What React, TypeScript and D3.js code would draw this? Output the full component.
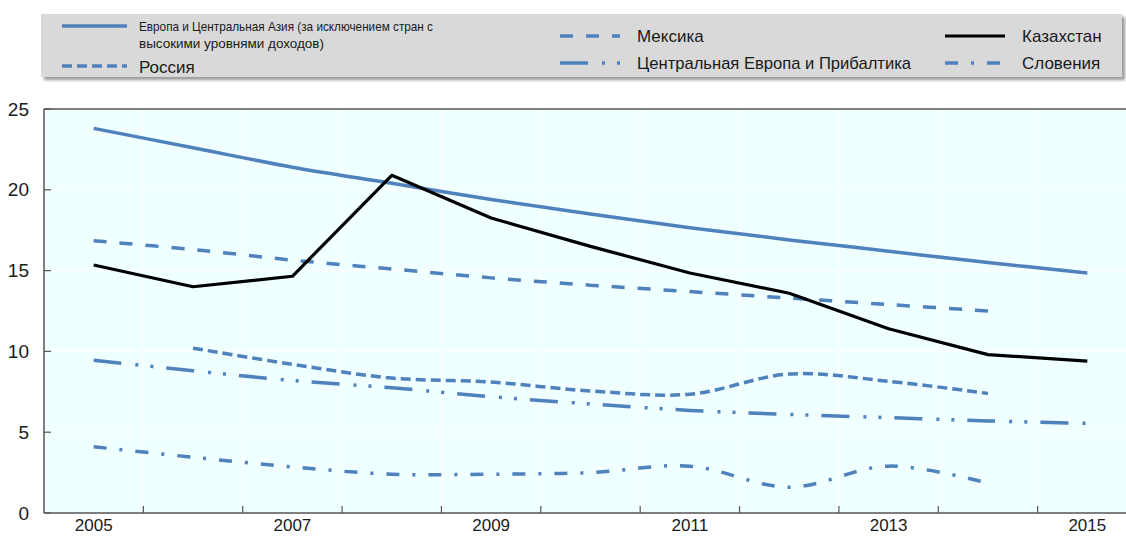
import React from "react";
import * as d3 from "d3";

const years = [2005, 2006, 2007, 2008, 2009, 2010, 2011, 2012, 2013, 2014, 2015];
const labelYears = [2005, 2007, 2009, 2011, 2013, 2015];
const yTicks = [0, 5, 10, 15, 20, 25];

const europeCA = [23.8, 22.6, 21.4, 20.4, 19.4, 18.5, 17.65, 16.9, 16.2, 15.5, 14.85];
const kazakhstan = [15.35, 14.0, 14.65, 20.9, 18.25, 16.5, 14.85, 13.6, 11.4, 9.8, 9.4];
const mexico = [16.85, 16.3, 15.65, 15.1, 14.55, 14.1, 13.7, 13.3, 12.9, 12.5, null];
const russia = [null, 10.2, 9.2, 8.35, 8.1, 7.55, 7.35, 8.6, 8.15, 7.4, null];
const centralEurope = [9.45, 8.8, 8.2, 7.75, 7.2, 6.75, 6.35, 6.1, 5.9, 5.7, 5.55];
const slovenia = [4.1, 3.45, 2.85, 2.4, 2.4, 2.5, 2.9, 1.6, 2.9, 1.85, null];

const BLUE = "#4F81BD";
const FONT = "'Liberation Sans Narrow', 'Arial Narrow', 'Liberation Sans', Arial, sans-serif";

type Series = {
  name: string;
  values: (number | null)[];
  color: string;
  width: number;
  dash: string;
  smooth: boolean;
};

const series: Series[] = [
  { name: "europe", values: europeCA, color: BLUE, width: 3.5, dash: "", smooth: true },
  { name: "mexico", values: mexico, color: BLUE, width: 3.5, dash: "13 13", smooth: true },
  { name: "russia", values: russia, color: BLUE, width: 3.5, dash: "10 5", smooth: true },
  { name: "ce", values: centralEurope, color: BLUE, width: 3.5, dash: "28 14 3 12 3 13", smooth: true },
  { name: "slovenia", values: slovenia, color: BLUE, width: 3.5, dash: "13 13 3 13", smooth: true },
  { name: "kaz", values: kazakhstan, color: "#000", width: 3.2, dash: "", smooth: false },
];

export default function App() {
  const x = d3.scaleBand<number>().domain(years).range([44, 1137]).padding(0);
  const bw = x.bandwidth();
  const cx = (yr: number) => (x(yr) as number) + bw / 2;
  const y = d3.scaleLinear().domain([0, 25]).range([513, 109]);

  const boundaries = years.slice(1).map((yr) => x(yr) as number);

  const pathFor = (s: Series) => {
    const pts = years
      .map((yr, i) => ({ yr, v: s.values[i] }))
      .filter((d) => d.v !== null) as { yr: number; v: number }[];
    const line = d3
      .line<{ yr: number; v: number }>()
      .x((d) => cx(d.yr))
      .y((d) => y(d.v))
      .curve(s.smooth ? d3.curveCatmullRom.alpha(0.5) : d3.curveLinear);
    return line(pts) || "";
  };

  const legendItems = [
    { x1: 62, x2: 127, y: 26, color: BLUE, dash: "", w: 3.5 },
    { x1: 62, x2: 127, y: 66, color: BLUE, dash: "10 5", w: 3.5 },
    { x1: 560, x2: 620, y: 36, color: BLUE, dash: "13 13", w: 3.5 },
    { x1: 560, x2: 620, y: 63, color: BLUE, dash: "28 14 3 12 3 13", w: 3.5 },
    { x1: 945, x2: 1005, y: 36, color: "#000", dash: "", w: 3.2 },
    { x1: 945, x2: 1005, y: 63, color: BLUE, dash: "13 13 3 13", w: 3.5 },
  ];

  const legendTexts: { x: number; y: number; t: string; size: number; len?: number }[] = [
    { x: 139, y: 26, t: "Европа и Центральная Азия (за исключением стран с", size: 13.5, len: 294 },
    { x: 139, y: 43, t: "высокими уровнями доходов)", size: 13.5, len: 185 },
    { x: 139, y: 67, t: "Россия", size: 17 },
    { x: 637, y: 36, t: "Мексика", size: 17 },
    { x: 637, y: 63, t: "Центральная Европа и Прибалтика", size: 17, len: 274 },
    { x: 1022, y: 36, t: "Казахстан", size: 17 },
    { x: 1022, y: 63, t: "Словения", size: 17 },
  ];

  return (
    <svg
      width={1126}
      height={536}
      style={{ position: "fixed", left: 0, top: 0, background: "#fff" }}
      fontFamily={FONT}
    >
      <defs>
        <filter id="blur" x="-5%" y="-30%" width="110%" height="160%">
          <feGaussianBlur stdDeviation="1.5" />
        </filter>
        <clipPath id="plotclip">
          <rect x={44} y={100} width={1100} height={420} />
        </clipPath>
      </defs>

      {/* Legend box */}
      <rect x={44} y={17} width={1081} height={63} fill="#9a9a9a" filter="url(#blur)" />
      <rect x={41} y={14} width={1081} height={63} fill="#d9d9d9" />
      {legendItems.map((l, i) => (
        <line
          key={i}
          x1={l.x1}
          x2={l.x2}
          y1={l.y}
          y2={l.y}
          stroke={l.color}
          strokeWidth={l.w}
          strokeDasharray={l.dash || undefined}
        />
      ))}
      {legendTexts.map((t, i) => (
        <text
          key={i}
          x={t.x}
          y={t.y}
          dy="0.35em"
          fontSize={t.size}
          fill="#1a1a1a"
          textLength={t.len}
          lengthAdjust={t.len ? "spacingAndGlyphs" : undefined}
        >
          {t.t}
        </text>
      ))}

      {/* Plot background */}
      <rect x={44} y={109} width={1137 - 44} height={513 - 109} fill="#f0ffff" />
      {/* grid */}
      {yTicks.slice(1, -1).map((v) => (
        <line key={"gy" + v} x1={44} x2={1137} y1={y(v)} y2={y(v)} stroke="#ffffff" strokeWidth={1.2} />
      ))}
      {boundaries.map((b, i) => (
        <line key={"gx" + i} x1={b} x2={b} y1={109} y2={513} stroke="#ffffff" strokeWidth={1.2} />
      ))}

      {/* series */}
      <g clipPath="url(#plotclip)">
        {series.map((s) => (
          <path
            key={s.name}
            d={pathFor(s)}
            fill="none"
            stroke={s.color}
            strokeWidth={s.width}
            strokeDasharray={s.dash || undefined}
            strokeLinejoin="round"
          />
        ))}
      </g>

      {/* axes */}
      <line x1={44} x2={1137} y1={109} y2={109} stroke="#555" strokeWidth={1.5} />
      <line x1={44} x2={44} y1={109} y2={513} stroke="#555" strokeWidth={1.5} />
      <line x1={44} x2={1137} y1={513} y2={513} stroke="#555" strokeWidth={1.5} />
      {yTicks.map((v) => (
        <g key={"yt" + v}>
          <line x1={44} x2={51} y1={y(v)} y2={y(v)} stroke="#555" strokeWidth={1.2} />
          <text x={29} y={y(v)} dy="0.35em" textAnchor="end" fontSize={19} fill="#1a1a1a">
            {v}
          </text>
        </g>
      ))}
      {boundaries.map((b, i) => (
        <line key={"xt" + i} x1={b} x2={b} y1={513} y2={506} stroke="#555" strokeWidth={1.2} />
      ))}
      {labelYears.map((yr) => (
        <text key={"xl" + yr} x={cx(yr)} y={525} dy="0.35em" textAnchor="middle" fontSize={17} fill="#1a1a1a">
          {yr}
        </text>
      ))}
    </svg>
  );
}
